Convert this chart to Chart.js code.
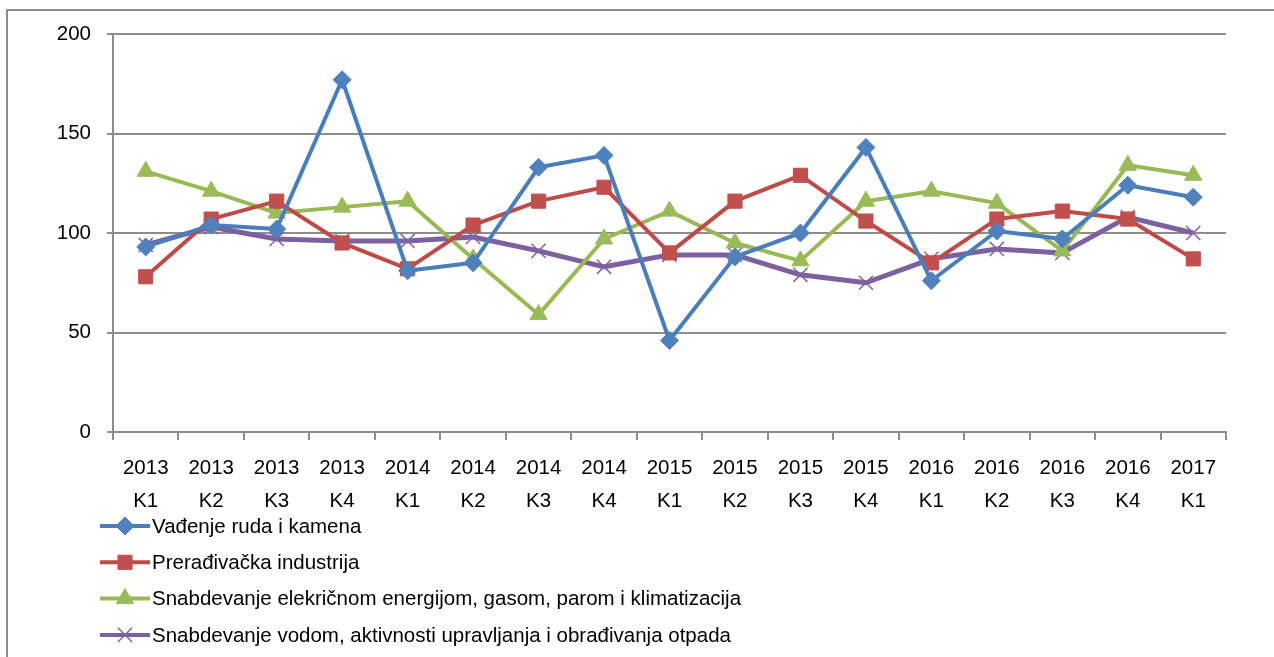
<!DOCTYPE html>
<html>
<head>
<meta charset="utf-8">
<script src="https://cdn.jsdelivr.net/npm/chart.js"></script>
<style>
  html, body { margin: 0; padding: 0; background: #fff; }
  #wrap { position: relative; width: 1274px; height: 657px; }
  #frame { position: absolute; left: 6px; top: 9px; right: 0; bottom: 0;
           border-top: 2px solid #8d8d8d; border-left: 2px solid #8d8d8d; pointer-events: none; }
</style>
</head>
<body>
<div id="wrap">
  <canvas id="myChart" width="1274" height="657"></canvas>
  <div id="frame"></div>
</div>
<script>
// kvartali
var godine = ['2013','2013','2013','2013','2014','2014','2014','2014','2015','2015','2015','2015','2016','2016','2016','2016','2017'];
var kvartali = ['K1','K2','K3','K4','K1','K2','K3','K4','K1','K2','K3','K4','K1','K2','K3','K4','K1'];

var nazivi = [
    'Vađenje ruda i kamena',
    'Prerađivačka industrija',
    'Snabdevanje elekričnom energijom, gasom, parom i klimatizacija',
    'Snabdevanje vodom, aktivnosti upravljanja i obrađivanja otpada'
];

var vadjenje   = [93, 104, 102, 177, 81, 85, 133, 139, 46, 88, 100, 143, 76, 101, 97, 124, 118];
var preradjiv  = [78, 107, 116, 95, 82, 104, 116, 123, 90, 116, 129, 106, 85, 107, 111, 107, 87];
var energija   = [131, 121, 110, 113, 116, 87, 59, 97, 111, 95, 86, 116, 121, 115, 91, 134, 129];
var voda       = [94, 103, 97, 96, 96, 98, 91, 83, 89, 89, 79, 75, 87, 92, 90, 108, 100];

var yTicks = [0, 50, 100, 150, 200];

var labele = [];
for (let i = 0; i < godine.length; i++) {
    labele.push([godine[i], kvartali[i]]);
}

var FONT = "'Liberation Sans', Arial, sans-serif";
var VELICINA = 20.5;

function serija(label, data, color, fill, style, radius, bw, lw) {
    return {
        label: label,
        data: data,
        borderColor: color,
        backgroundColor: fill,
        borderWidth: lw,
        pointStyle: style,
        pointRadius: radius,
        pointHoverRadius: radius,
        pointBackgroundColor: fill,
        pointBorderColor: fill,
        pointBorderWidth: bw,
        tension: 0
    };
}

// legenda jedna ispod druge
var legendaPlugin = {
    id: 'legenda',
    afterDraw: function(chart) {
        var ctx = chart.ctx;
        var top = chart.chartArea.bottom + 94;
        ctx.save();
        chart.data.datasets.forEach(function(ds, i) {
            var y = top + i * 36.3;
            ctx.strokeStyle = ds.borderColor;
            ctx.lineWidth = 4;
            ctx.beginPath();
            ctx.moveTo(100, y);
            ctx.lineTo(150, y);
            ctx.stroke();
            ctx.fillStyle = ds.pointBackgroundColor;
            ctx.strokeStyle = ds.pointBorderColor;
            ctx.lineWidth = ds.pointBorderWidth;
            Chart.helpers.drawPoint(ctx, {pointStyle: ds.pointStyle, rotation: 0, borderWidth: ds.pointBorderWidth, radius: ds.pointRadius}, 125, y);
            ctx.fillStyle = '#000';
            ctx.font = VELICINA + 'px ' + FONT;
            ctx.textBaseline = 'middle';
            ctx.textAlign = 'left';
            ctx.fillText(ds.label, 152, y + 1);
        });
        ctx.restore();
    }
};

var ctx = document.getElementById('myChart');

var myChart = new Chart(ctx, {
    type: 'line',
    data: {
        labels: labele,
        datasets: [
            serija(nazivi[0], vadjenje, '#4a7ebb', '#4f81bd', 'rectRot', 9, 1, 4),
            serija(nazivi[1], preradjiv, '#be4b48', '#c0504d', 'rect', 10, 1, 4),
            serija(nazivi[2], energija, '#98b954', '#9bbb59', 'triangle', 10, 1, 4),
            serija(nazivi[3], voda, '#7d60a0', '#8064a2', 'crossRot', 10, 1.5, 5)
        ]
    },
    options: {
        responsive: false,
        animation: false,
        layout: {
            padding: {top: 34, right: 48, bottom: 135, left: 0}
        },
        scales: {
            x: {
                offset: true,
                grid: {
                    offset: true,
                    drawOnChartArea: false,
                    tickLength: 8,
                    color: '#8d8d8d',
                    lineWidth: 2
                },
                border: {color: '#8d8d8d', width: 2},
                ticks: {
                    color: '#000',
                    padding: 12,
                    maxRotation: 0,
                    autoSkip: false,
                    font: {family: FONT, size: VELICINA, lineHeight: 1.62}
                },
                afterFit: function(scale) { scale.height = 90; }
            },
            y: {
                min: 0,
                max: 200,
                afterBuildTicks: function(scale) {
                    scale.ticks = yTicks.map(function(v) { return {value: v}; });
                },
                grid: {
                    color: '#8d8d8d',
                    lineWidth: 2,
                    tickLength: 6
                },
                border: {color: '#8d8d8d', width: 2},
                ticks: {
                    color: '#000',
                    padding: 16,
                    font: {family: FONT, size: VELICINA}
                },
                afterFit: function(scale) { scale.width = 113; }
            }
        },
        plugins: {
            legend: {display: false},
            tooltip: {enabled: false}
        },
        elements: {
            line: {borderJoinStyle: 'round'}
        }
    },
    plugins: [legendaPlugin]
});
</script>
</body>
</html>
